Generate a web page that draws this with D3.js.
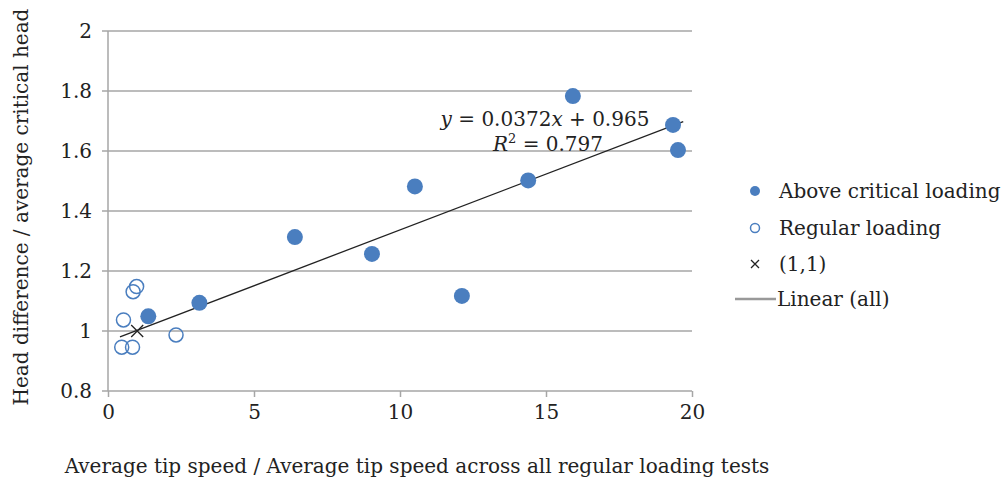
<!DOCTYPE html>
<html lang="en">
	<head>
		<title>Head difference vs tip speed</title>
		<style>
			body { margin: 0; background: #fff; }
			text { font-family: "DejaVu Serif", "Liberation Serif", serif; fill: #222; }
			.grid line { stroke: #a6a6a6; stroke-width: 1.5px; }
			.axis path, .axis line { stroke: #a6a6a6; stroke-width: 1.5px; }
		</style>
	</head>
	<body>
		<div id="graphic"></div>
		<script src="https://cdnjs.cloudflare.com/ajax/libs/d3/7.8.5/d3.min.js"></script>
		<script>
			// above critical loading
			var aboveX = [15.92, 19.35, 19.52, 10.51, 14.39, 6.40, 9.04, 12.12, 3.13, 1.38],
				aboveY = [1.783, 1.687, 1.603, 1.482, 1.502, 1.313, 1.257, 1.117, 1.094, 1.049];
			// regular loading
			var regX = [0.98, 0.86, 0.53, 2.33, 0.47, 0.84],
				regY = [1.148, 1.131, 1.037, 0.987, 0.946, 0.946];
			var refPoint = [1, 1];
			var slope = 0.0372, intercept = 0.965;
			var xTicks = [0, 5, 10, 15, 20],
				yTicks = [0.8, 1, 1.2, 1.4, 1.6, 1.8, 2];
			var legendLabels = ['Above critical loading', 'Regular loading', '(1,1)', 'Linear (all)'];

			var width = 1008, height = 481,
				mLeft = 108, mRight = 692, mTop = 31, mBottom = 391,
				blue = '#4a7ebf',
				fs = '20px';

			var svg = d3.select('#graphic').append('svg')
				.attr('width', width)
				.attr('height', height);

			var x = d3.scaleLinear().domain([0, 20]).range([mLeft, mRight]);
			var y = d3.scaleLinear().domain([0.8, 2]).range([mBottom, mTop]);

			// gridlines
			svg.append('g').classed('grid', true)
				.selectAll('line')
				.data(yTicks)
				.enter().append('line')
				.attr('x1', mLeft - 6).attr('x2', mRight)
				.attr('y1', function(d) { return y(d); })
				.attr('y2', function(d) { return y(d); });

			// y axis
			var yAxis = svg.append('g').classed('axis', true)
				.attr('transform', 'translate(' + mLeft + ',0)')
				.call(d3.axisLeft(y).tickValues(yTicks).tickSize(0).tickPadding(16)
					.tickFormat(function(d) { return d3.format('')(+d.toFixed(1)); }));
			yAxis.select('.domain').attr('d', 'M0,' + mTop + 'V' + mBottom);
			yAxis.selectAll('text').style('font-size', fs).style('fill', '#222');

			// x axis
			var xAxis = svg.append('g').classed('axis', true)
				.attr('transform', 'translate(0,' + mBottom + ')')
				.call(d3.axisBottom(x).tickValues(xTicks).tickSize(6).tickPadding(8));
			xAxis.select('.domain').remove();
			xAxis.selectAll('text').style('font-size', fs).style('fill', '#222');

			// trend line
			var xs = aboveX.concat(regX);
			var x0 = d3.min(xs) - 0.06, x1 = d3.max(xs) + 0.18;
			svg.append('line')
				.attr('x1', x(x0)).attr('y1', y(slope * x0 + intercept))
				.attr('x2', x(x1)).attr('y2', y(slope * x1 + intercept))
				.attr('stroke', '#222').attr('stroke-width', 1.3);

			// regular loading
			svg.append('g').selectAll('circle')
				.data(d3.range(regX.length))
				.enter().append('circle')
				.attr('cx', function(i) { return x(regX[i]); })
				.attr('cy', function(i) { return y(regY[i]); })
				.attr('r', 7)
				.attr('fill', 'none')
				.attr('stroke', blue)
				.attr('stroke-width', 1.5);

			// above critical
			svg.append('g').selectAll('circle')
				.data(d3.range(aboveX.length))
				.enter().append('circle')
				.attr('cx', function(i) { return x(aboveX[i]); })
				.attr('cy', function(i) { return y(aboveY[i]); })
				.attr('r', 8)
				.attr('fill', blue);

			// (1,1) cross
			var cx = x(refPoint[0]), cy = y(refPoint[1]);
			svg.append('path')
				.attr('d', 'M' + (cx - 6) + ',' + (cy - 6) + 'L' + (cx + 6) + ',' + (cy + 6) +
					'M' + (cx - 6) + ',' + (cy + 6) + 'L' + (cx + 6) + ',' + (cy - 6))
				.attr('stroke', '#222').attr('stroke-width', 1.3);

			// equation
			var eq = svg.append('text').attr('x', 545).attr('y', 126)
				.attr('text-anchor', 'middle').style('font-size', fs);
			eq.append('tspan').style('font-style', 'italic').text('y');
			eq.append('tspan').text(' = 0.0372');
			eq.append('tspan').style('font-style', 'italic').text('x');
			eq.append('tspan').text(' + 0.965');
			var r2 = svg.append('text').attr('x', 548).attr('y', 151)
				.attr('text-anchor', 'middle').style('font-size', fs);
			r2.append('tspan').style('font-style', 'italic').text('R');
			r2.append('tspan').attr('dy', -8).style('font-size', '13px').text('2');
			r2.append('tspan').attr('dy', 8).text(' = 0.797');

			// legend
			var legY = [191, 228, 264, 299];
			var leg = svg.append('g');
			leg.append('circle').attr('cx', 755).attr('cy', legY[0]).attr('r', 5).attr('fill', blue);
			leg.append('circle').attr('cx', 755).attr('cy', legY[1]).attr('r', 4.5)
				.attr('fill', 'none').attr('stroke', blue).attr('stroke-width', 1.5);
			leg.append('path')
				.attr('d', 'M751,' + (legY[2] - 4) + 'L759,' + (legY[2] + 4) + 'M751,' + (legY[2] + 4) + 'L759,' + (legY[2] - 4))
				.attr('stroke', '#222').attr('stroke-width', 1.3);
			leg.append('line').attr('x1', 735).attr('x2', 776).attr('y1', legY[3]).attr('y2', legY[3])
				.attr('stroke', '#999').attr('stroke-width', 2.5);
			leg.selectAll('text')
				.data(legendLabels)
				.enter().append('text')
				.attr('x', function(d, i) { return i === 3 ? 777 : 779; })
				.attr('y', function(d, i) { return legY[i]; })
				.attr('dy', '0.35em')
				.style('font-size', fs)
				.text(function(d) { return d; });

			// axis titles
			svg.append('text')
				.attr('x', 417).attr('y', 473)
				.attr('text-anchor', 'middle')
				.style('font-size', fs)
				.text('Average tip speed / Average tip speed across all regular loading tests');
			svg.append('text')
				.attr('transform', 'translate(28,207) rotate(-90)')
				.attr('text-anchor', 'middle')
				.style('font-size', fs)
				.text('Head difference / average critical head');
		</script>
	</body>
</html>
